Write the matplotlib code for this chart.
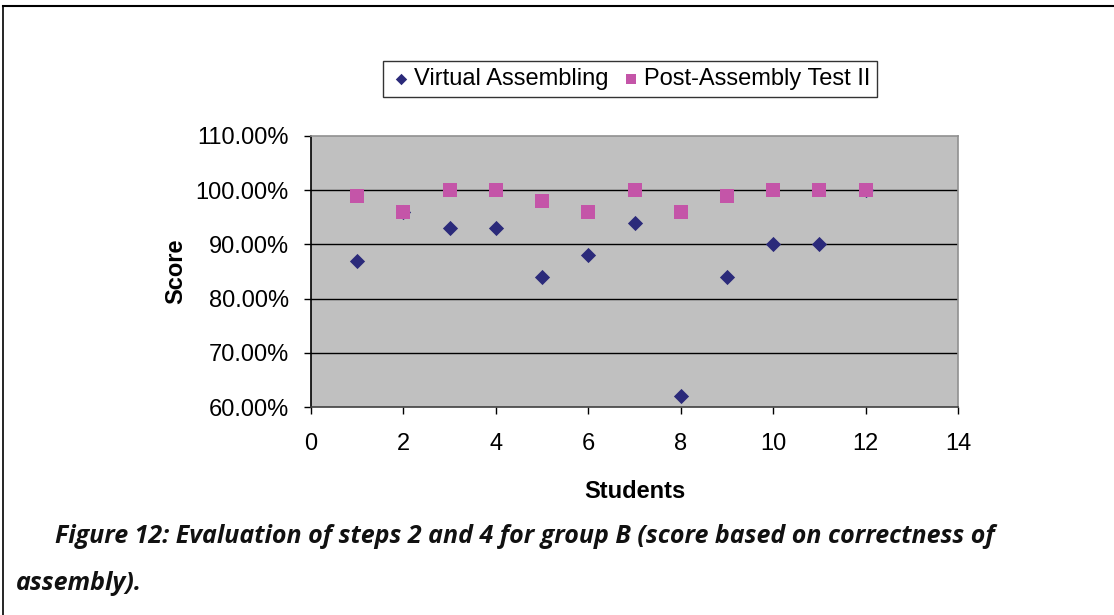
import matplotlib
matplotlib.use("Agg")
import matplotlib.pyplot as plt
from matplotlib.lines import Line2D
from matplotlib.ticker import FuncFormatter

students = [1, 2, 3, 4, 5, 6, 7, 8, 9, 10, 11, 12]
virtual_assembling = [0.87, 0.96, 0.93, 0.93, 0.84, 0.88, 0.94, 0.62, 0.84, 0.90, 0.90, 1.00]
post_assembly_test = [0.99, 0.96, 1.00, 1.00, 0.98, 0.96, 1.00, 0.96, 0.99, 1.00, 1.00, 1.00]

plt.rcParams['font.family'] = ['Liberation Sans', 'DejaVu Sans']

fig = plt.figure(figsize=(11.14, 6.15), dpi=100)
ax = fig.add_axes([0.2792, 0.3382, 0.5808, 0.4407])
ax.set_facecolor('#C0C0C0')

ax.scatter(students, virtual_assembling, marker='D', s=60, color='#2B2A7A',
           label='Virtual Assembling', zorder=3, linewidths=0)
ax.scatter(students, post_assembly_test, marker='s', s=100, color='#C455A8',
           label='Post-Assembly Test II', zorder=3, linewidths=0)

ax.set_xlim(0, 14)
ax.set_ylim(0.6, 1.1)
ax.set_xticks(range(0, 15, 2))
ax.set_yticks([0.6, 0.7, 0.8, 0.9, 1.0, 1.1])
ax.yaxis.set_major_formatter(FuncFormatter(lambda v, p: f'{v * 100:.2f}%'))
ax.tick_params(labelsize=17, length=5, width=1, color='black')
ax.tick_params(axis='x', pad=14)
ax.tick_params(axis='y', pad=11)

for v in [0.7, 0.8, 0.9, 1.0]:
    ax.axhline(v, color='black', linewidth=1, zorder=1)

ax.spines['left'].set_color('black')
ax.spines['bottom'].set_color('#404040')
ax.spines['top'].set_color('#909090')
ax.spines['right'].set_color('#909090')
for s in ax.spines.values():
    s.set_linewidth(1.2)

ax.set_xlabel('Students', fontsize=17, fontweight='bold', labelpad=18)
ax.set_ylabel('Score', fontsize=17, fontweight='bold', labelpad=6)

leg = fig.legend(loc='center', bbox_to_anchor=(0.5655, 0.872), ncol=2, fontsize=17,
                 frameon=True, fancybox=False, edgecolor='black', handletextpad=0.1,
                 columnspacing=0.5, borderpad=0.3, handlelength=0.9, markerscale=0.75)
leg.get_frame().set_linewidth(1.0)

cap_font = dict(fontsize=18, fontweight='bold', style='italic',
                family=['Open Sans', 'DejaVu Sans'], color='#111111', va='center')
fig.text(0.049, 0.127, 'Figure 12: Evaluation of steps 2 and 4 for group B (score based on correctness of',
         **cap_font)
fig.text(0.014, 0.051, 'assembly).', **cap_font)

fig.add_artist(Line2D([0.003, 1.0], [0.99, 0.99], color='black', linewidth=1.5,
                      transform=fig.transFigure))
fig.add_artist(Line2D([0.003, 0.003], [0.0, 0.99], color='black', linewidth=1.2,
                      transform=fig.transFigure))

fig.savefig('out.png', dpi=100)
